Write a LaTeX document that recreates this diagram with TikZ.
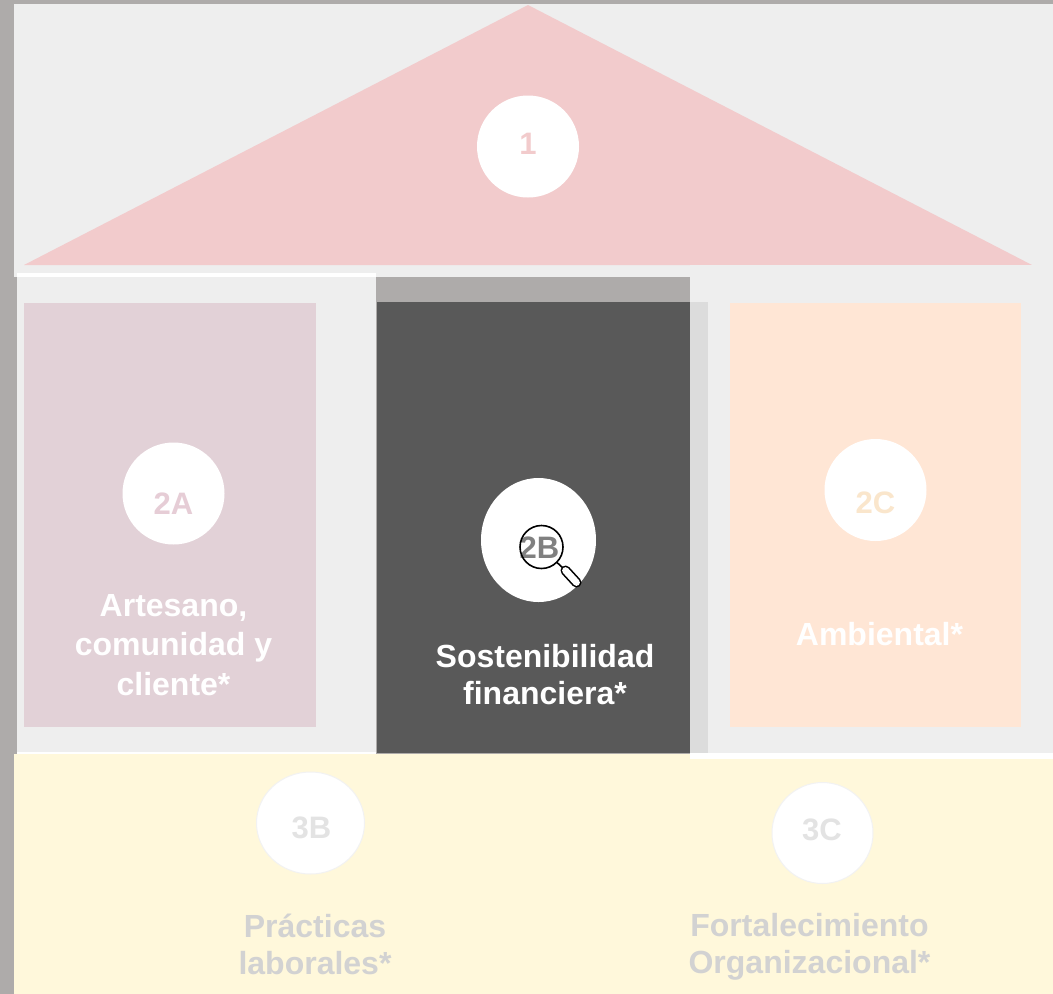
\documentclass[tikz,border=0pt]{standalone}
\usepackage{fontspec}
\setmainfont{Liberation Sans}
\usetikzlibrary{shapes.geometric}
\definecolor{bggray}{HTML}{AEABAA}
\definecolor{panel}{HTML}{EEEEEE}
\definecolor{roof}{HTML}{F2CBCC}
\definecolor{pinkbox}{HTML}{E2D1D7}
\definecolor{darkbox}{HTML}{595959}
\definecolor{shadowgray}{HTML}{DCDCDC}
\definecolor{peach}{HTML}{FFE6D5}
\definecolor{yellowbase}{HTML}{FFF8DB}
\definecolor{numA}{HTML}{E6CDD6}
\definecolor{numC}{HTML}{FAE6CC}
\definecolor{numthree}{HTML}{E3E3E3}
\definecolor{lblthree}{HTML}{D2D2D2}
\definecolor{discedge}{HTML}{F2F2F2}
\begin{document}
\begin{tikzpicture}[x=1pt,y=-1pt,
  lbl/.style={font=\fontsize{32}{37}\selectfont\bfseries, align=center, anchor=base, inner sep=0},
  numtxt/.style={font=\fontsize{31}{37}\selectfont\bfseries, anchor=base, inner sep=0},
  disc/.style={circle, fill=white, minimum size=102, inner sep=0}]
\useasboundingbox (0,0) rectangle (1053,994);
% background
\fill[bggray] (0,0) rectangle (1053,994);
\fill[panel] (14,4) rectangle (1053,277);
\fill[roof] (24,265) -- (528,5) -- (1032,265) -- cycle;
\fill[white] (17,273) rectangle (376,277);
\fill[panel] (17,277) rectangle (376,752);
\fill[panel] (690,265) rectangle (1053,753);
\fill[bggray] (376,278) rectangle (690,302);
\fill[shadowgray] (690,302) rectangle (708,753);
\fill[darkbox] (377,302) rectangle (690,753);
\fill[yellowbase] (14,754) rectangle (1053,994);
\fill[white] (17,752) rectangle (376,754);
\fill[white] (690,753) rectangle (1053,759);
\fill[pinkbox] (24,303) rectangle (316,727);
\fill[peach] (730,303) rectangle (1021,727);
% discs
\node[disc] (c1) at (528,146.5) {};
\node[disc] (c2A) at (173.5,493.5) {};
\node[ellipse, fill=white, minimum width=115, minimum height=124, inner sep=0] (c2B) at (538.5,540) {};
\node[disc] (c2C) at (875.5,490) {};
\node[ellipse, fill=white, draw=discedge, line width=1, minimum width=108, minimum height=102, inner sep=0] (c3B) at (310.5,823) {};
\node[disc, draw=discedge, line width=1, minimum size=101] (c3C) at (822.5,833) {};
% numbers
\node[numtxt, text=roof] (n1) at (528,154) {1};
\node[numtxt, text=numA] (n2A) at (173.5,514) {2A};
\node[numtxt, text=gray] (n2B) at (539.5,558) {2B};
\node[numtxt, text=numC] (n2C) at (875.5,513) {2C};
\node[numtxt, text=numthree] (n3B) at (311.5,838) {3B};
\node[numtxt, text=numthree] (n3C) at (822,840.5) {3C};
% magnifier
\draw[black, line width=1.6] (541.5,547) circle[radius=21.5];
\draw[black, line width=1.6] (556.7,562.2) -- (563.5,568.5);
\draw[black, line width=10, line cap=round] (565.5,570.5) -- (576.5,582.5);
\draw[white, line width=6.8, line cap=round] (565.5,570.5) -- (576.5,582.5);
% labels (base anchor = baseline of the last line)
\node[lbl, text=white, font=\fontsize{32}{39.5}\selectfont\bfseries] (lA) at (173.5,695) {Artesano,\\comunidad y\\cliente*};
\node[lbl, text=white] (lB) at (545,704) {Sostenibilidad\\financiera*};
\node[lbl, text=white] (lC) at (879.5,645) {Ambiental*};
\node[lbl, text=lblthree] (l3B) at (315,974) {Prácticas\\laborales*};
\node[lbl, text=lblthree, font=\fontsize{32}{36.5}\selectfont\bfseries] (l3C) at (809.5,973) {Fortalecimiento\\Organizacional*};
\end{tikzpicture}
\end{document}
